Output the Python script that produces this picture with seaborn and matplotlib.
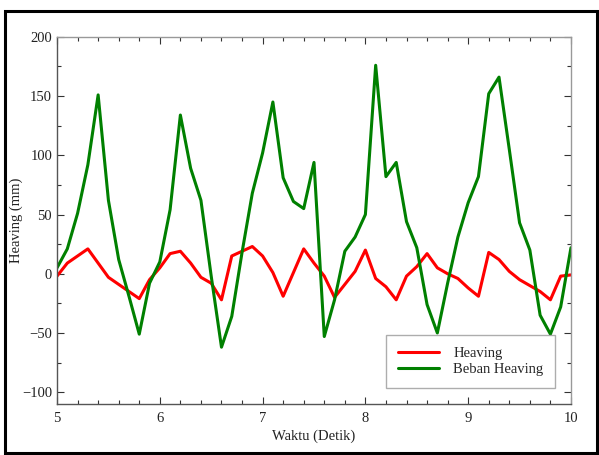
import numpy as np
import pandas as pd
import matplotlib
matplotlib.use("Agg")
import matplotlib.pyplot as plt
import seaborn as sns
from matplotlib.patches import Rectangle
from matplotlib.ticker import MultipleLocator

waktu = [5.0, 5.1, 5.2, 5.3, 5.4, 5.5, 5.6, 5.7, 5.8, 5.9,
         6.0, 6.1, 6.2, 6.3, 6.4, 6.5, 6.6, 6.7, 6.8, 6.9,
         7.0, 7.1, 7.2, 7.3, 7.4, 7.5, 7.6, 7.7, 7.8, 7.9,
         8.0, 8.1, 8.2, 8.3, 8.4, 8.5, 8.6, 8.7, 8.8, 8.9,
         9.0, 9.1, 9.2, 9.3, 9.4, 9.5, 9.6, 9.7, 9.8, 9.9, 10.0]

heaving = [-2, 9, 15, 21, 9, -3, -9, -15, -21, -5,
           5, 17, 19, 9, -3, -8, -22, 15, 19, 23,
           15, 1, -19, 1, 21, 9, -2, -20, -9, 2,
           20, -4, -11, -22, -2, 6, 17, 5, 0, -4,
           -12, -19, 18, 12, 2, -5, -10, -15, -22, -2, -1]

beban_heaving = [5, 21, 51, 92, 151, 62, 12, -19, -51, -8,
                 10, 54, 134, 89, 62, -2, -62, -36, 18, 68,
                 102, 145, 81, 61, 55, 94, -53, -22, 19, 31,
                 50, 176, 82, 94, 44, 22, -26, -50, -8, 31,
                 60, 82, 152, 166, 105, 43, 20, -35, -51, -28, 22]

series_names = ["Heaving", "Beban Heaving"]

df = pd.concat([
    pd.DataFrame({"Waktu": waktu, "Nilai": heaving, "Seri": series_names[0]}),
    pd.DataFrame({"Waktu": waktu, "Nilai": beban_heaving, "Seri": series_names[1]}),
])

sns.set_theme(style="white")
plt.rcParams["font.family"] = ["Liberation Serif", "DejaVu Serif"]
plt.rcParams["mathtext.fontset"] = "stix"

fig = plt.figure(figsize=(5.99, 4.55), dpi=100)
ax = fig.add_axes([0.0952, 0.112, 0.858, 0.807])

sns.lineplot(data=df, x="Waktu", y="Nilai", hue="Seri", hue_order=series_names,
             palette={"Heaving": "#ff0000", "Beban Heaving": "#008000"},
             linewidth=2.2, ax=ax, sort=False, estimator=None)

ax.set_xlim(5, 10)
ax.set_ylim(-110, 200)
ax.xaxis.set_major_locator(MultipleLocator(1))
ax.xaxis.set_minor_locator(MultipleLocator(0.2))
ax.yaxis.set_major_locator(MultipleLocator(50))
ax.yaxis.set_minor_locator(MultipleLocator(25))
ax.tick_params(which="both", direction="in", top=True, right=True,
               bottom=True, left=True, colors="#333333", labelcolor="#222222",
               labelsize=10.5)
ax.tick_params(which="major", length=5, width=0.8)
ax.tick_params(which="minor", length=3, width=0.8)
ax.tick_params(axis="x", pad=6)
for side in ["left", "bottom"]:
    ax.spines[side].set_color("#555555")
    ax.spines[side].set_linewidth(1.0)
for side in ["top", "right"]:
    ax.spines[side].set_color("#999999")
    ax.spines[side].set_linewidth(1.0)

ax.set_xlabel("Waktu (Detik)", fontsize=10.5, color="#222222", labelpad=3)
ax.set_ylabel("Heaving (mm)", fontsize=10.5, color="#222222", labelpad=-1)

leg = ax.legend(loc="lower right", bbox_to_anchor=(0.969, 0.044), frameon=True,
                fancybox=False, fontsize=10.5, handlelength=2.8,
                handletextpad=1.0, borderpad=0.8, labelspacing=0.2,
                borderaxespad=0)
leg.get_frame().set_edgecolor("#999999")
leg.get_frame().set_linewidth(1.0)
leg.set_title(None)

fig.patches.append(Rectangle((0.009, 0.004), 0.988, 0.972, transform=fig.transFigure,
                             fill=False, edgecolor="black", linewidth=2.2))

fig.savefig("out.png", dpi=100)
